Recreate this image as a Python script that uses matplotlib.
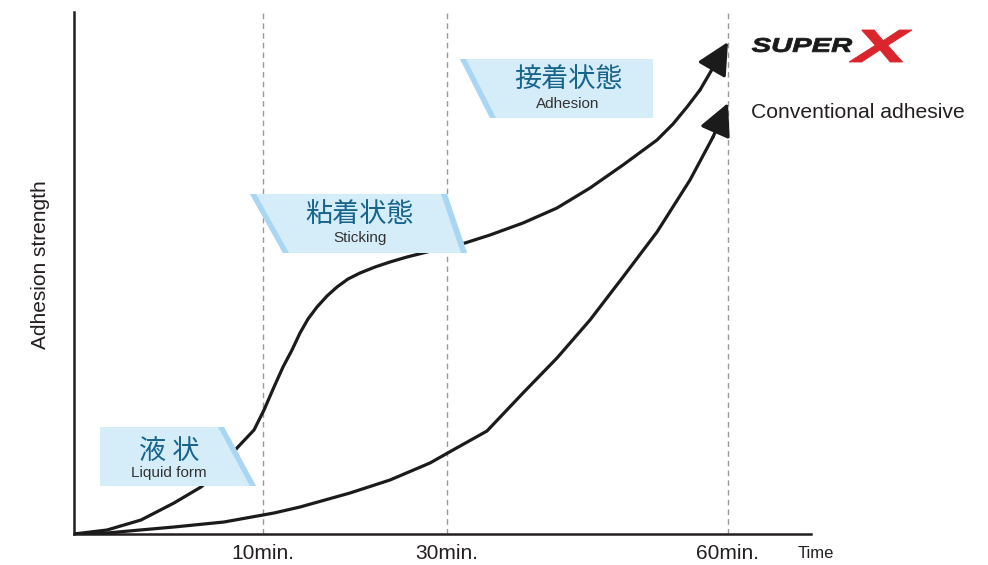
import matplotlib
matplotlib.use("Agg")
import matplotlib.pyplot as plt
from matplotlib.patches import Polygon, PathPatch
from matplotlib.textpath import TextPath
from matplotlib.font_manager import FontProperties
from matplotlib.transforms import Affine2D, IdentityTransform

plt.rcParams["font.family"] = ["Liberation Sans", "DejaVu Sans"]
CJK = ["Noto Sans CJK JP", "DejaVu Sans"]

# --- data (x = time position, y = strength) ---
tick_pos = [189, 373, 654]
tick_labels = ["10min.", "30min.", "60min."]

superx_x = [0, 33, 67, 100, 127, 147, 163, 180, 190, 200, 209, 218, 226, 234,
            243, 253, 263, 274, 286, 301, 316, 333, 349, 373, 391, 416, 449,
            483, 516, 549, 583, 599, 613, 626, 654]
superx_y = [0, 4, 14, 31, 47, 64, 86, 104, 124, 147, 167, 184, 201, 215,
            227, 238, 247, 255, 261, 267, 272, 277, 281, 287, 291, 299, 311,
            326, 346, 369, 394, 410, 427, 444, 492]

conv_x = [0, 33, 66, 100, 150, 200, 226, 276, 316, 356, 379, 413, 449, 483,
          516, 549, 583, 616, 639, 654]
conv_y = [0, 1, 4, 7, 12, 21, 27, 41, 54, 71, 84, 103, 141, 176,
          214, 257, 302, 354, 397, 431]

# state labels: (jp, en)
states = [("液 状", "Liquid form"), ("粘着状態", "Sticking"), ("接着状態", "Adhesion")]

W, H = 988, 565
X0, Y0 = 74, 534          # axes origin in pixels


def d(px, py):
    # pixel position in the picture -> data coords
    return (px - X0, Y0 - py)


fig = plt.figure(figsize=(W / 100, H / 100), dpi=100)
ax = fig.add_axes([X0 / W, (H - Y0) / H, (811 - X0) / W, (Y0 - 12) / H])
ax.set_xlim(0, 811 - X0)
ax.set_ylim(0, Y0 - 12)

for s in ["top", "right"]:
    ax.spines[s].set_visible(False)
for s in ["left", "bottom"]:
    ax.spines[s].set_linewidth(1.8)
    ax.spines[s].set_color("#231f20")
ax.set_yticks([])
ax.set_xticks(tick_pos, tick_labels, fontsize=15, color="#231f20")
ax.tick_params(axis="x", length=0, pad=7)

for x in tick_pos:
    ax.axvline(x, color="#9a9a9a", lw=1, ls=(0, (4, 3)), zorder=1)

line_kw = dict(color="#1b1b1b", lw=2.3, solid_capstyle="round",
               solid_joinstyle="round", zorder=3)
arrow_kw = dict(arrowstyle="-|>,head_length=0.9,head_width=0.45",
                mutation_scale=22, color="#1b1b1b", lw=2.3,
                shrinkA=0, shrinkB=0)
for xs, ys in [(superx_x, superx_y), (conv_x, conv_y)]:
    ax.plot(xs[:-1], ys[:-1], **line_kw)
    ax.annotate("", xy=(xs[-1], ys[-1]), xytext=(xs[-2], ys[-2]),
                arrowprops=arrow_kw, zorder=3)

# --- label boxes ---
fill = "#d5ecf9"
stripe = "#a9d6f3"
boxes = [
    [(100, 427), (224, 427), (256, 486), (100, 486)],
    [(250, 194), (447, 194), (467, 253), (283, 253)],
    [(460, 59), (653, 59), (653, 118), (490, 118)],
]
stripes = [
    [[(218, 427), (224, 427), (256, 486), (250, 486)]],
    [[(250, 194), (256, 194), (289, 253), (283, 253)],
     [(441, 194), (447, 194), (467, 253), (461, 253)]],
    [[(460, 59), (466, 59), (496, 118), (490, 118)]],
]
text_pos = [(169, 451, 473), (360, 214, 238), (568, 79, 104)]

for poly, strs, (jp, en), (tx, ty1, ty2) in zip(boxes, stripes, states, text_pos):
    ax.add_patch(Polygon([d(*p) for p in poly], closed=True, fc=fill,
                         ec="none", zorder=4, clip_on=False))
    for sp in strs:
        ax.add_patch(Polygon([d(*p) for p in sp], closed=True, fc=stripe,
                             ec="none", zorder=4, clip_on=False))
    ax.text(*d(tx, ty1), jp, family=CJK, fontsize=19.5,
            color="#17648c", ha="center", va="center", zorder=5)
    ax.text(*d(tx, ty2), en, fontsize=11, color="#333333",
            ha="center", va="center", zorder=5)

# --- outside texts ---
fig.text(40 / W, 1 - 265 / H, "Adhesion strength", rotation=90,
         fontsize=15, color="#231f20", ha="center", va="center")
fig.text(816 / W, 1 - 554 / H, "Time", fontsize=12, color="#231f20",
         ha="center", va="center")
fig.text(751 / W, 1 - 112 / H, "Conventional adhesive", fontsize=15.2,
         color="#231f20", ha="left", va="center")


# SUPER X logo, glyphs stretched into their boxes
def logo_word(word, box, color):
    fp = FontProperties(family="Liberation Sans", weight="bold", style="italic")
    tp = TextPath((0, 0), word, size=20, prop=fp)
    ext = tp.get_extents()
    x1, y1, x2, y2 = box
    sx = (x2 - x1) / ext.width
    sy = (y2 - y1) / ext.height
    tr = (Affine2D().translate(-ext.x0, -ext.y0).scale(sx, sy)
          .translate(x1, H - y2))
    fig.add_artist(PathPatch(tr.transform_path(tp), fc=color, ec=color,
                             lw=0.6, transform=IdentityTransform()))


logo_word("SUPER", (752, 38, 852, 52), "#1a1a1a")
logo_word("X", (849, 30, 912, 62), "#d9252b")

fig.savefig("out.png", dpi=100)
